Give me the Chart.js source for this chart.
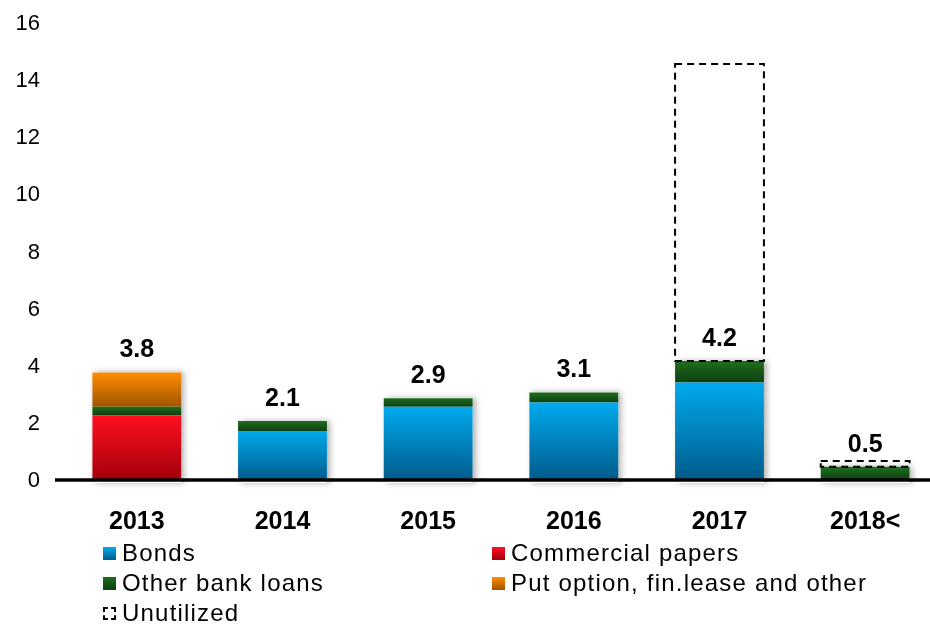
<!DOCTYPE html>
<html><head><meta charset="utf-8">
<script src="https://cdn.jsdelivr.net/npm/chart.js@4/dist/chart.umd.min.js"></script>
<style>
html,body{margin:0;padding:0;background:#fff;overflow:hidden;width:930px;height:624px;}
#wrap{position:absolute;left:0;top:0;width:938px;height:624px;}
#legend{position:absolute;left:0;top:0;width:930px;height:624px;pointer-events:none;font-family:"Liberation Sans",Arial,sans-serif;font-size:24px;color:#000;}
.item{position:absolute;display:flex;align-items:center;white-space:nowrap;letter-spacing:1.2px;height:30px;line-height:30px;}
.sw{width:13px;height:13px;margin-right:6px;flex:none;box-sizing:border-box;}
</style></head>
<body>
<div id="wrap"><canvas id="c"></canvas></div>
<div id="legend"></div>
<script>
const categories = ['2013', '2014', '2015', '2016', '2017', '2018<'];
const bonds            = [0,   1.75, 2.6, 2.75, 3.45, 0];
const commercialPapers = [2.3, 0,    0,   0,    0,    0];
const otherBankLoans   = [0.3, 0.35, 0.3, 0.35, 0.75, 0.5];
const putOption        = [1.2, 0,    0,   0,    0,    0];
const unutilized       = [0,   0,    0,   0,    10.4, 0.2];
const totalLabels      = ['3.8', '2.1', '2.9', '3.1', '4.2', '0.5'];
const seriesNames = ['Bonds', 'Commercial papers', 'Other bank loans', 'Put option, fin.lease and other', 'Unutilized'];

const FONT = '"Liberation Sans", Arial, sans-serif';

function grad(top, bottom) {
  return function (ctx) {
    const chart = ctx.chart;
    if (!chart.chartArea || ctx.dataIndex === undefined) return top;
    const ds = ctx.datasetIndex, i = ctx.dataIndex;
    let start = 0;
    for (let d = 0; d < ds; d++) start += chart.data.datasets[d].data[i];
    const end = start + chart.data.datasets[ds].data[i];
    const ys = chart.scales.y;
    const y0 = ys.getPixelForValue(end), y1 = ys.getPixelForValue(start);
    if (!isFinite(y0) || !isFinite(y1) || y1 - y0 < 1) return top;
    const g = chart.ctx.createLinearGradient(0, y0, 0, y1);
    g.addColorStop(0, top);
    g.addColorStop(1, bottom);
    return g;
  };
}

const colors = [
  ['#00AAEE', '#005A8A'],
  ['#FF1020', '#A0000C'],
  ['#1F6E1F', '#0E3E10'],
  ['#FF8C00', '#A05400']
];

const decor = {
  id: 'decor',
  beforeDatasetsDraw(chart) {
    const ctx = chart.ctx;
    const m0 = chart.getDatasetMeta(0);
    ctx.save();
    ctx.shadowColor = 'rgba(0,0,0,0.30)';
    ctx.shadowBlur = 6;
    ctx.shadowOffsetX = 3;
    ctx.fillStyle = '#fff';
    m0.data.forEach((el, i) => {
      let top = el.base;
      for (let d = 0; d < 4; d++) {
        const e = chart.getDatasetMeta(d).data[i];
        if (chart.data.datasets[d].data[i] > 0) top = Math.min(top, e.y);
      }
      const w = el.width;
      ctx.fillRect(el.x - w / 2, top, w, el.base - top + 2);
    });
    ctx.restore();
  },
  afterDatasetsDraw(chart) {
    const ctx = chart.ctx;
    const ys = chart.scales.y;
    const mu = chart.getDatasetMeta(4);
    ctx.save();
    ctx.strokeStyle = '#000';
    ctx.lineWidth = 2;
    ctx.setLineDash([7, 5]);
    mu.data.forEach((el, i) => {
      if (!(unutilized[i] > 0)) return;
      const l = el.x - el.width / 2;
      ctx.strokeRect(l, el.y, el.width, el.base - el.y);
    });
    ctx.restore();
    const y0 = ys.getPixelForValue(0);
    ctx.save();
    ctx.strokeStyle = '#000';
    ctx.lineWidth = 3.5;
    ctx.beginPath();
    ctx.moveTo(55, y0 - 1);
    ctx.lineTo(chart.width, y0 - 1);
    ctx.stroke();
    ctx.restore();
    ctx.save();
    ctx.font = 'bold 25px ' + FONT;
    ctx.fillStyle = '#000';
    ctx.textAlign = 'center';
    ctx.textBaseline = 'middle';
    chart.getDatasetMeta(0).data.forEach((el, i) => {
      const loans = bonds[i] + commercialPapers[i] + otherBankLoans[i] + putOption[i];
      ctx.fillText(totalLabels[i], el.x, ys.getPixelForValue(loans) - 22);
    });
    ctx.restore();
  }
};

const datasets = [bonds, commercialPapers, otherBankLoans, putOption].map((d, k) => ({
  label: seriesNames[k],
  data: d,
  backgroundColor: grad(colors[k][0], colors[k][1]),
  borderWidth: 0
}));
datasets.push({ label: seriesNames[4], data: unutilized, backgroundColor: 'rgba(0,0,0,0)', borderWidth: 0 });

new Chart(document.getElementById('c'), {
  type: 'bar',
  data: { labels: categories, datasets },
  options: {
    responsive: true,
    maintainAspectRatio: false,
    animation: false,
    layout: { padding: { top: 24, left: 0, right: 0, bottom: 0 } },
    plugins: { legend: { display: false }, tooltip: { enabled: false } },
    datasets: { bar: { categoryPercentage: 1, barPercentage: 0.61 } },
    scales: {
      x: {
        stacked: true,
        grid: { display: false, drawTicks: false },
        border: { display: false },
        ticks: { color: '#000', font: { family: FONT, size: 25, weight: 'bold' }, padding: 26, maxRotation: 0 },
        afterFit(s) { s.height = 143; }
      },
      y: {
        stacked: true,
        min: 0, max: 16,
        grid: { display: false, drawTicks: false },
        border: { display: false },
        ticks: { stepSize: 2, color: '#000', font: { family: FONT, size: 22 }, padding: 24 },
        afterFit(s) { s.width = 64; s.paddingTop = 0; s.paddingBottom = 0; }
      }
    }
  },
  plugins: [decor]
});

const legendItems = [
  { name: seriesNames[0], left: 103, cy: 553, bg: 'linear-gradient(#00AAEE,#005A8A)' },
  { name: seriesNames[1], left: 492, cy: 553, bg: 'linear-gradient(#FF1020,#A0000C)' },
  { name: seriesNames[2], left: 103, cy: 583, bg: 'linear-gradient(#1F6E1F,#0E3E10)' },
  { name: seriesNames[3], left: 492, cy: 583, bg: 'linear-gradient(#FF8C00,#A05400)' },
  { name: seriesNames[4], left: 103, cy: 613, bg: null }
];
const lg = document.getElementById('legend');
legendItems.forEach(it => {
  const d = document.createElement('div');
  d.className = 'item';
  d.style.left = it.left + 'px';
  d.style.top = (it.cy - 15) + 'px';
  const sw = document.createElement('span');
  sw.className = 'sw';
  if (it.bg) sw.style.background = it.bg;
  else { sw.style.border = '2px dashed #000'; sw.style.background = '#fff'; }
  const t = document.createElement('span');
  t.textContent = it.name;
  d.appendChild(sw); d.appendChild(t);
  lg.appendChild(d);
});
</script>
</body></html>
